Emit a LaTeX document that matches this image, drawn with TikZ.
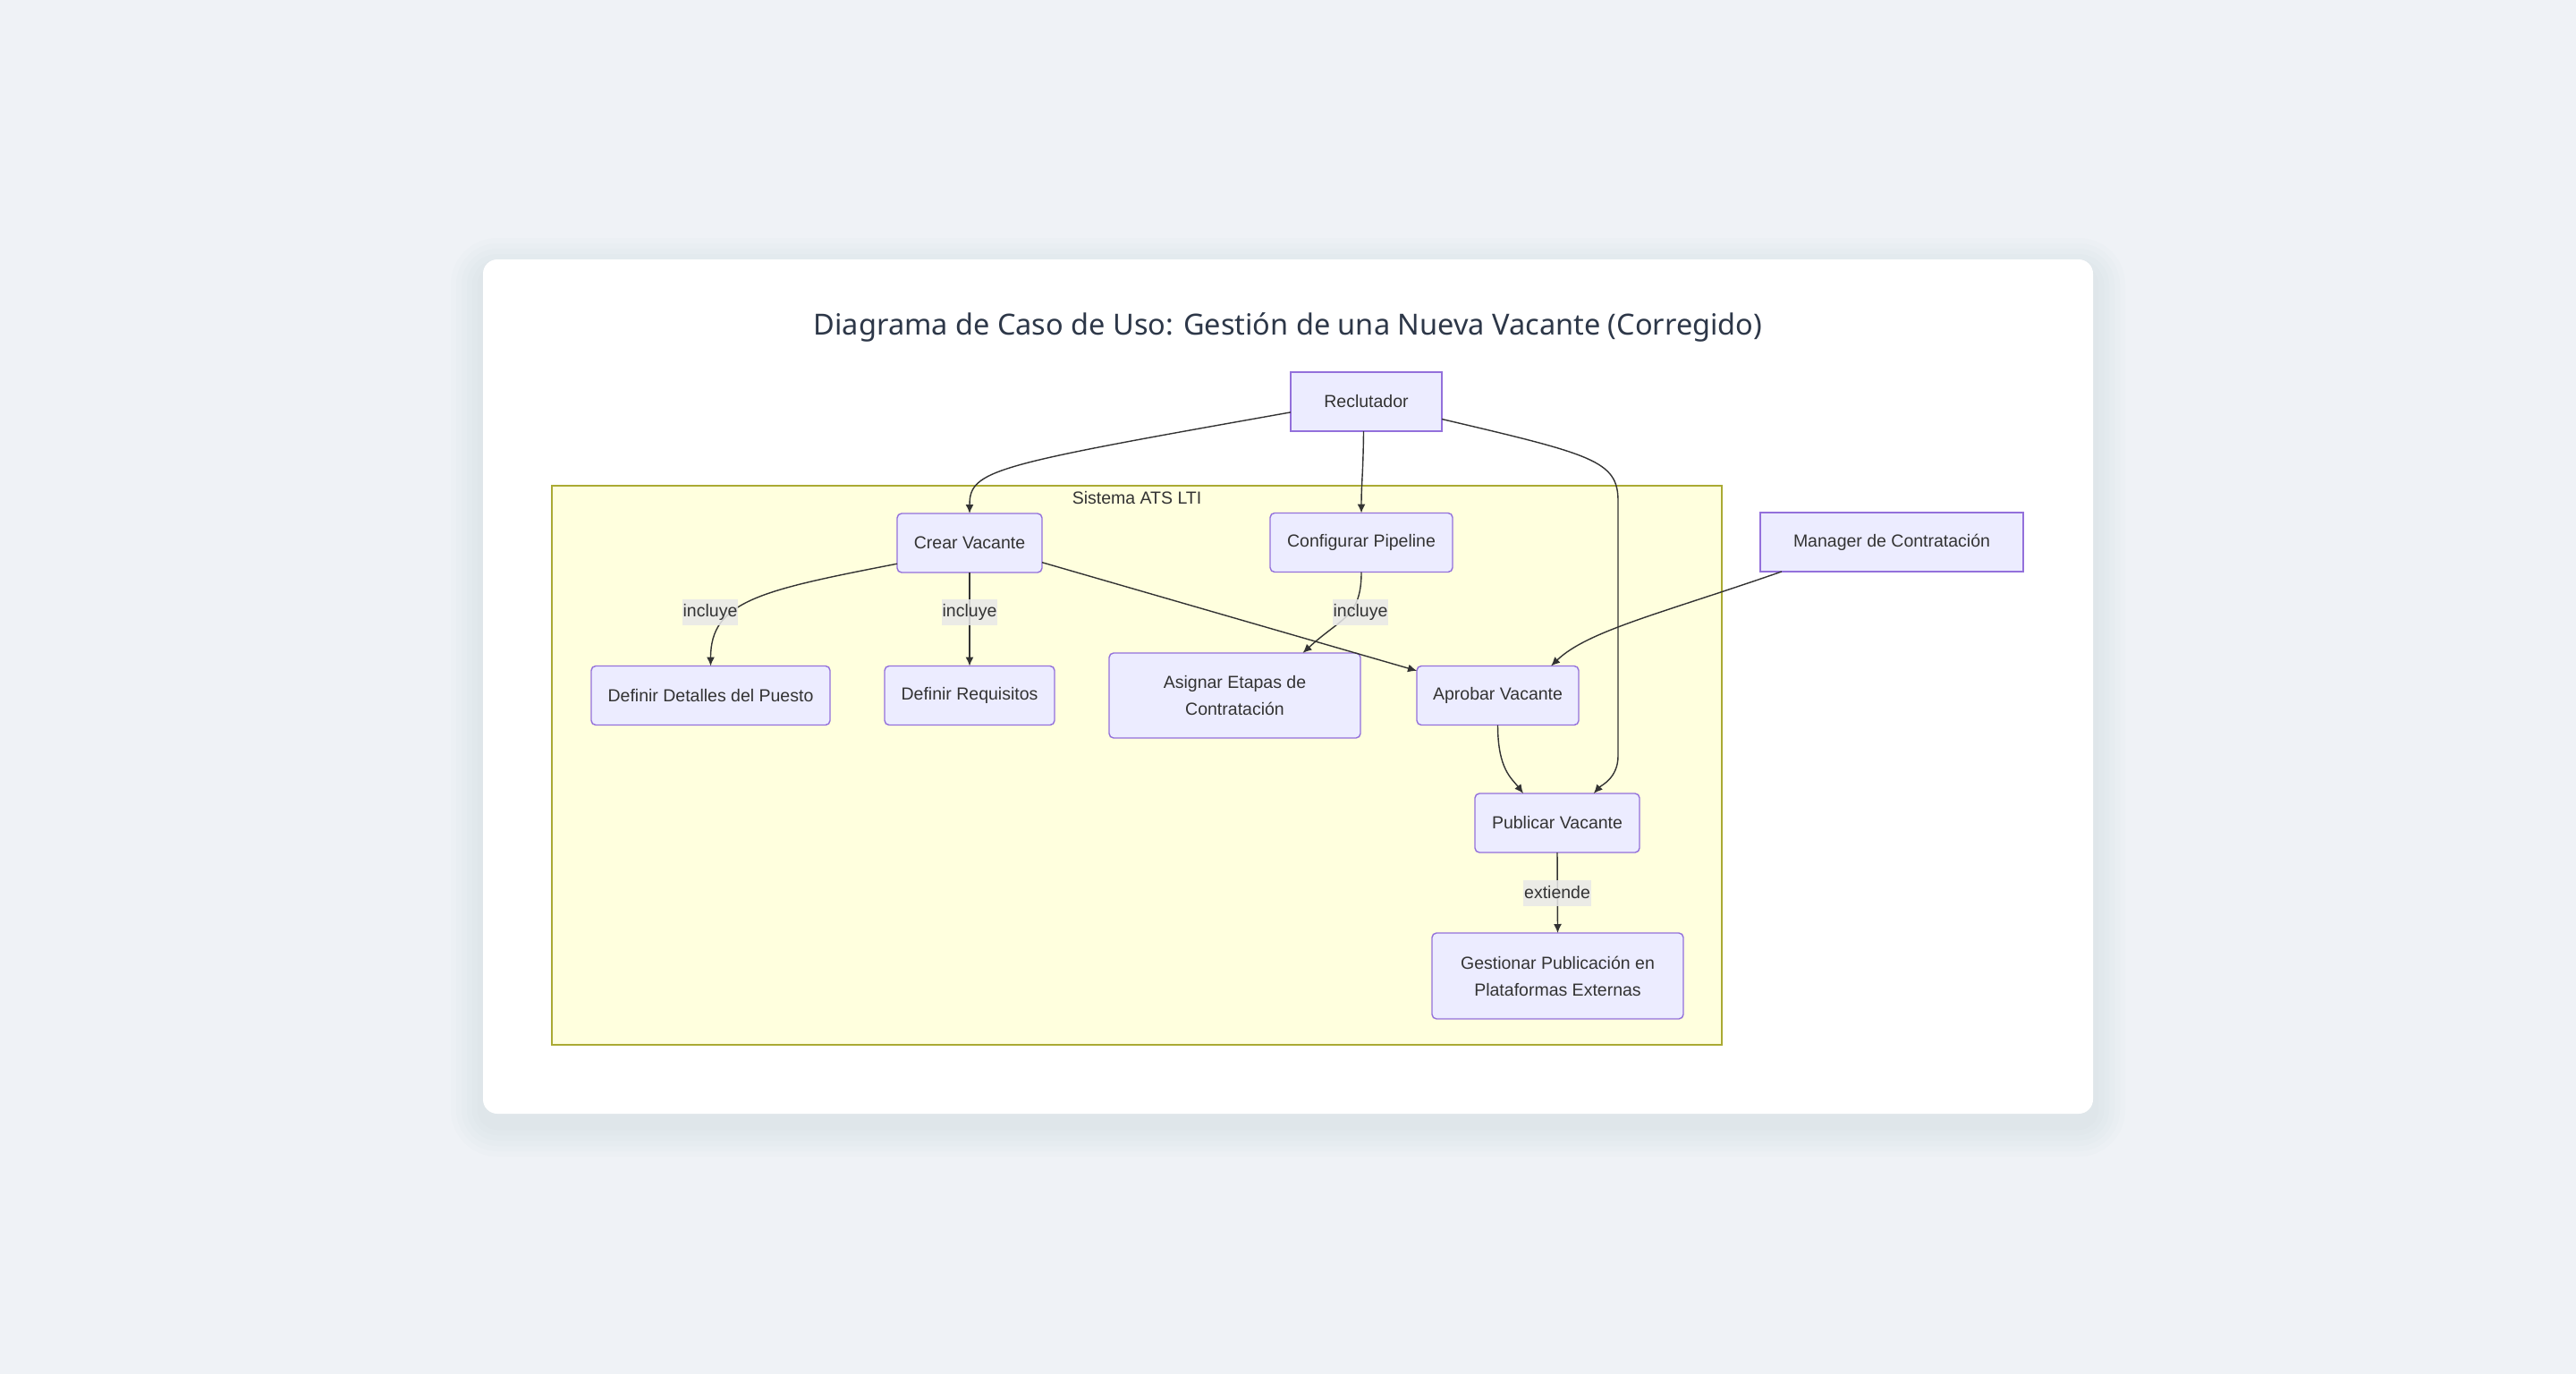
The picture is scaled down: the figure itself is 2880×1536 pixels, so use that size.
\documentclass[tikz,border=0pt]{standalone}
\usepackage{fontspec}
\setmainfont{Liberation Sans}
\newfontfamily\titlefont{Noto Sans}
\usepackage{tikz}
\usetikzlibrary{arrows.meta, calc}

\definecolor{pagebg}{RGB}{239,242,246}
\definecolor{cardshadow}{RGB}{100,116,139}
\definecolor{titletext}{RGB}{45,55,72}
\definecolor{nodefill}{RGB}{236,236,255}
\definecolor{nodeline}{RGB}{147,112,219}
\definecolor{systemfill}{RGB}{255,255,222}
\definecolor{systemline}{RGB}{170,170,51}
\definecolor{edgecolor}{RGB}{51,51,51}
\definecolor{labelfill}{RGB}{232,232,232}
\definecolor{nodetext}{RGB}{51,51,51}

\tikzset{>={Latex[length=5pt,width=4.5pt]}}
\tikzset{font=\fontsize{9.75}{15}\selectfont}
\tikzset{
  actor/.style={draw=nodeline, fill=nodefill, line width=0.7pt, text=nodetext,
    minimum height=33pt, inner sep=0pt, outer sep=0pt, align=center},
  usecase/.style={actor, rounded corners=2.5pt},
  rel/.style={->, draw=edgecolor, line width=0.7pt},
  rellabel/.style={fill=labelfill, fill opacity=0.85, text opacity=1, text=nodetext,
    inner xsep=0.5pt, inner ysep=0pt, minimum height=14.5pt},
}

\begin{document}
\begin{tikzpicture}[x=0.5pt, y=-0.5pt]
  \useasboundingbox (0,0) rectangle (2880,1536);
  \fill[pagebg] (0,0) rectangle (2880,1536);
  % soft shadow round the card
  \foreach \s/\r in {6/11pt,12/14pt,18/17pt,24/20pt,30/23pt,36/26pt}
    \fill[cardshadow, opacity=0.014, rounded corners=\r]
      (540-\s,290-\s+12) rectangle (2340+\s,1245+\s+12);
  \fill[white, rounded corners=8pt] (540,290) rectangle (2340,1245);

  \node[font=\titlefont\fontsize{16.25}{19}\selectfont, text=titletext] (title) at (1440,366)
    {Diagrama de Caso de Uso: Gestión de una Nueva Vacante (Corregido)};

  % system boundary
  \node[draw=systemline, fill=systemfill, line width=0.7pt, minimum width=654pt,
    minimum height=312.5pt, inner sep=0pt] (sistema) at (1271,855.5) {};
  \node[text=nodetext, inner sep=0pt] (sistemalbl) at (1271,557) {Sistema ATS LTI};

  % actors and use cases
  \node[actor, minimum width=84.5pt] (reclutador) at (1527.5,449) {Reclutador};
  \node[actor, minimum width=147pt] (manager) at (2115,606) {Manager de Contratación};
  \node[usecase, minimum width=81pt] (crear) at (1084,607) {Crear Vacante};
  \node[usecase, minimum width=102pt] (pipeline) at (1522,606.5) {Configurar Pipeline};
  \node[usecase, minimum width=133.5pt] (detalles) at (794.5,777.5) {Definir Detalles del Puesto};
  \node[usecase, minimum width=95pt] (requisitos) at (1084,777.5) {Definir Requisitos};
  \node[usecase, minimum width=140.5pt, minimum height=47.5pt] (etapas) at (1380.5,777.5)
    {Asignar Etapas de\\Contratación};
  \node[usecase, minimum width=90.5pt] (aprobar) at (1674.5,777.5) {Aprobar Vacante};
  \node[usecase, minimum width=92pt] (publicar) at (1741,920) {Publicar Vacante};
  \node[usecase, minimum width=140.5pt, minimum height=48pt] (gestionar) at (1741.5,1091)
    {Gestionar Publicación en\\Plataformas Externas};

  % relations
  \draw[rel] (reclutador.188) .. controls (1110,520) and (1084,525) .. (crear.north);
  \draw[rel] ($(reclutador.south)+(-3,0)$) .. controls (1524,530) and (1522,540) .. (pipeline.north);
  \draw[rel] (reclutador.-13) .. controls (1780,508) and (1809,515) .. (1809,560)
    -- (1809,845) .. controls (1809,870) and (1790,878) .. (publicar.39);
  \draw[rel] (crear.196) .. controls (850,660) and (794.5,672) .. (detalles.north);
  \draw[rel] (crear.south) -- (requisitos.north);
  \draw[rel] (crear.-15) -- (aprobar.163);
  \draw[rel] (pipeline.south) .. controls (1522,690) and (1500,690) .. (etapas.32);
  \draw[rel] (manager.195) .. controls (1860,685) and (1775,705) .. (aprobar.29);
  \draw[rel] (aprobar.south) .. controls (1674.5,860) and (1690,870) .. (publicar.139);
  \draw[rel] (publicar.south) -- (gestionar.north);

  % relation labels
  \node[rellabel] (incluye1) at (794,684) {incluye};
  \node[rellabel] (incluye2) at (1084,684) {incluye};
  \node[rellabel] (incluye3) at (1521,684) {incluye};
  \node[rellabel] (extiende) at (1741,998) {extiende};
\end{tikzpicture}
\end{document}
